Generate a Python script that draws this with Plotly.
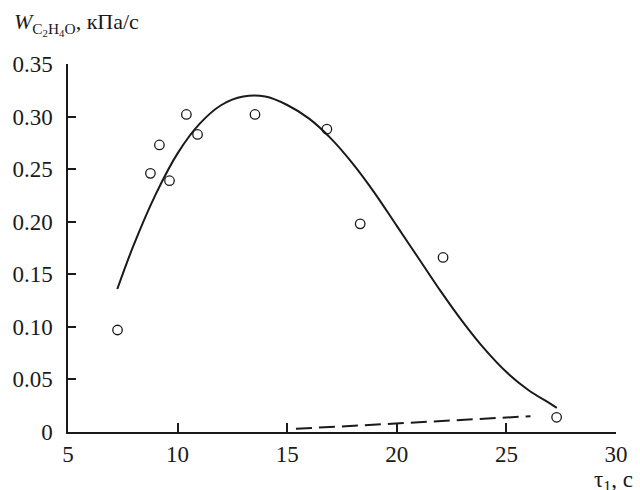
import plotly.graph_objects as go

# Experimental points
tau_pts = [7.26, 8.76, 9.17, 9.63, 10.40, 10.91, 13.53, 16.81, 18.33, 22.11, 27.29]
w_pts = [0.097, 0.246, 0.273, 0.239, 0.302, 0.283, 0.302, 0.288, 0.198, 0.166, 0.014]

# Fitted solid curve
tau_curve = [7.25, 8.0, 9.0, 10.0, 11.0, 12.0, 13.0, 14.0, 15.0, 16.0, 17.0, 18.0,
             19.0, 20.0, 21.0, 22.0, 23.0, 24.0, 25.0, 26.0, 27.0, 27.3]
w_curve = [0.136, 0.178, 0.226, 0.265, 0.293, 0.311, 0.319, 0.319, 0.311, 0.298,
           0.279, 0.255, 0.227, 0.196, 0.165, 0.134, 0.105, 0.079, 0.057, 0.040,
           0.027, 0.023]

# Dashed line
tau_dash = [15.4, 26.1]
w_dash = [0.003, 0.015]

x_ticks = [5, 10, 15, 20, 25, 30]
y_ticks = [0, 0.05, 0.10, 0.15, 0.20, 0.25, 0.30, 0.35]
y_labels = ["0", "0.05", "0.10", "0.15", "0.20", "0.25", "0.30", "0.35"]

FONT = "Liberation Serif"
INK = "#1a1a1a"
FS = 23

fig = go.Figure()
fig.add_trace(go.Scatter(x=tau_curve, y=w_curve, mode="lines",
                         line=dict(color=INK, width=2, shape="spline", smoothing=1),
                         showlegend=False, hoverinfo="skip"))
fig.add_trace(go.Scatter(x=tau_dash, y=w_dash, mode="lines",
                         line=dict(color=INK, width=2, dash="16px,7px"),
                         showlegend=False, hoverinfo="skip"))
fig.add_trace(go.Scatter(x=tau_pts, y=w_pts, mode="markers",
                         marker=dict(symbol="circle-open", size=9.5, color=INK,
                                     line=dict(width=1.3, color=INK)),
                         showlegend=False))

fig.update_layout(
    width=640, height=490,
    margin=dict(l=66, r=14, t=64, b=58),
    paper_bgcolor="white", plot_bgcolor="white",
    font=dict(family=FONT, size=FS, color=INK),
    xaxis=dict(range=[5, 30], tickvals=x_ticks, ticks="inside", ticklen=9,
               tickwidth=1.5, tickcolor=INK, showline=True, linecolor=INK,
               linewidth=1.5, showgrid=False, zeroline=False,
               ticklabelstandoff=1),
    yaxis=dict(range=[0, 0.35], tickvals=y_ticks, ticktext=y_labels,
               ticks="inside", ticklen=8, tickwidth=1.5, tickcolor=INK,
               showline=True, linecolor=INK, linewidth=1.5, showgrid=False,
               zeroline=False, ticklabelstandoff=9),
    annotations=[
        dict(text="<i>W</i><sub>C<sub>2</sub>H<sub>4</sub>O</sub>, кПа/с",
             xref="paper", yref="paper",
             x=-0.102, y=1.11, xanchor="left", yanchor="middle", showarrow=False,
             font=dict(size=22)),
        dict(text="τ<sub>1</sub>, с", xref="paper", yref="paper",
             x=1.035, y=-0.133, xanchor="right", yanchor="middle", showarrow=False),
    ],
)

fig.write_html("out.html")
